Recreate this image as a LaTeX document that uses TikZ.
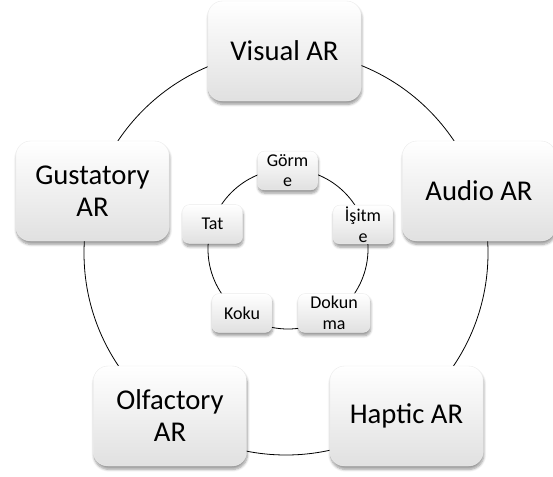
\documentclass[tikz,border=0pt]{standalone}
\usepackage{fontspec}
\setmainfont{Carlito}
\usetikzlibrary{shadows.blur}

\begin{document}
\begin{tikzpicture}[x=0.75pt,y=-0.75pt,
		kutu/.style={draw=black!8,line width=0.3pt,top color=white,middle color=white,bottom color=black!12,align=center,
			blur shadow={shadow xshift=0.5pt,shadow yshift=-2.5pt,shadow blur steps=6,shadow opacity=40}},
		buyuk/.style={kutu,rounded corners=11pt,minimum width=115pt,minimum height=75pt,font=\fontsize{21.5}{24}\selectfont},
		kucuk/.style={kutu,rounded corners=5pt,minimum width=45pt,minimum height=29pt,inner sep=1pt,font=\fontsize{13.5}{15.5}\selectfont}]
		\useasboundingbox(0,0)rectangle(553,476);
		\coordinate(dis)at(286,253);
		\coordinate(ic)at(288,249);
		\draw[line width=0.6pt](dis)circle[radius=202];
		\draw[line width=0.6pt](ic)circle[radius=80];
		% dis halka
		\node[buyuk](visual)at(284.5,51){Visual AR};
		\node[buyuk](audio)at(479,191){Audio AR};
		\node[buyuk](haptic)at(406.5,416){Haptic AR};
		\node[buyuk](olfactory)at(170,416){Olfactory\\AR};
		\node[buyuk](gustatory)at(92.5,191){Gustatory\\AR};
		% ic halka
		\node[kucuk](gorme)at(287.5,170.5){Görm\\e};
		\node[kucuk](isitme)at(363,224.5){İşitm\\e};
		\node[kucuk,minimum width=54pt](dokunma)at(334,313){Dokun\\ma};
		\node[kucuk](koku)at(242,313){Koku};
		\node[kucuk](tat)at(212.5,224){Tat};
	\end{tikzpicture}
\end{document}
